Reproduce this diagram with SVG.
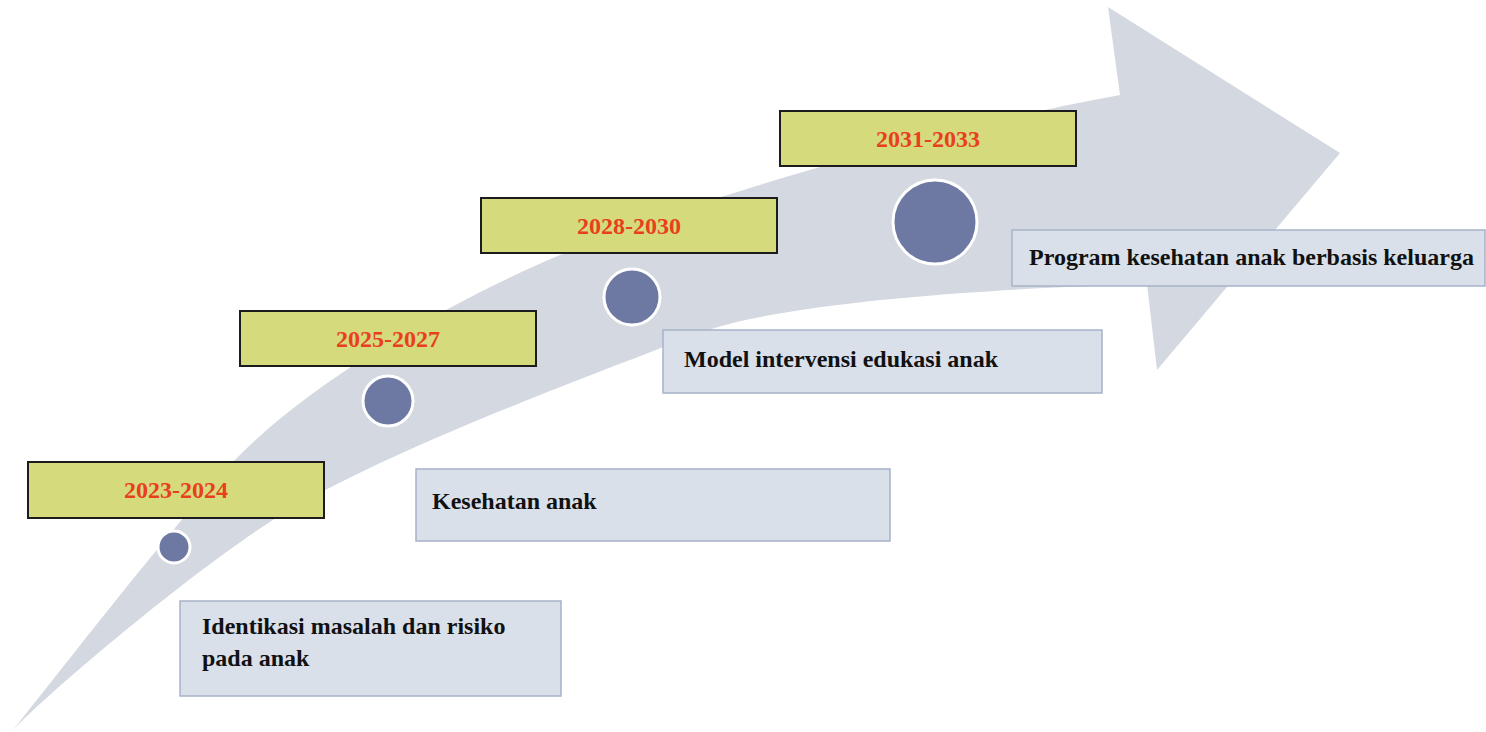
<svg xmlns="http://www.w3.org/2000/svg" width="1486" height="732" viewBox="0 0 1486 732">
  <style>
    .period rect { fill: #d5da7c; stroke: #1c1c1c; stroke-width: 2; }
    .period text { font-family: "Liberation Serif", "Times New Roman", serif; font-weight: bold; font-size: 24px; fill: #e8401c; text-anchor: middle; }
    .dot { fill: #6d79a2; stroke: #ffffff; stroke-width: 3; }
    .output rect { fill: #d9e0ea; stroke: #a7b3c9; stroke-width: 1.5; }
    .output text { font-family: "Liberation Serif", "Times New Roman", serif; font-weight: bold; font-size: 24px; fill: #111111; }
  </style>
  <rect width="1486" height="732" fill="#ffffff"/>

  <!-- sweeping roadmap arrow -->
  <g id="arrow">
    <path fill="#d4d8e1" d="M13,730 C73,655 173,525 233,462 C313,378 460,297 560,255 C710,192 970,122 1120,95 L1108,7 L1340,153 L1157,370 L1147,284 C1000,288 780,302 700,333 C600,372 380,452 273,520 C193,571 53,688 13,730 Z"/>
  </g>

  <!-- milestone markers on the arrow -->
  <g id="markers">
    <circle class="dot" cx="174" cy="547" r="16"/>
    <circle class="dot" cx="388" cy="401" r="25"/>
    <circle class="dot" cx="632" cy="297" r="28"/>
    <circle class="dot" cx="935" cy="222" r="42"/>
  </g>

  <!-- period labels -->
  <g id="p2023" class="period">
    <rect x="28" y="462" width="296" height="56"/>
    <text x="176" y="498">2023-2024</text>
  </g>
  <g id="p2025" class="period">
    <rect x="240" y="311" width="296" height="55"/>
    <text x="388" y="347">2025-2027</text>
  </g>
  <g id="p2028" class="period">
    <rect x="481" y="198" width="296" height="55"/>
    <text x="629" y="234">2028-2030</text>
  </g>
  <g id="p2031" class="period">
    <rect x="780" y="111" width="296" height="55"/>
    <text x="928" y="147">2031-2033</text>
  </g>

  <!-- outputs per period -->
  <g id="o2023" class="output">
    <rect x="180" y="601" width="381" height="95"/>
    <text x="202" y="634">Identikasi masalah dan risiko</text>
    <text x="202" y="666">pada anak</text>
  </g>
  <g id="o2025" class="output">
    <rect x="416" y="469" width="474" height="72"/>
    <text x="432" y="509">Kesehatan anak</text>
  </g>
  <g id="o2028" class="output">
    <rect x="663" y="330" width="439" height="63"/>
    <text x="684" y="367">Model intervensi edukasi anak</text>
  </g>
  <g id="o2031" class="output">
    <rect x="1012" y="230" width="473" height="56"/>
    <text x="1029" y="265">Program kesehatan anak berbasis keluarga</text>
  </g>

  <g id="connectors"/>
</svg>
